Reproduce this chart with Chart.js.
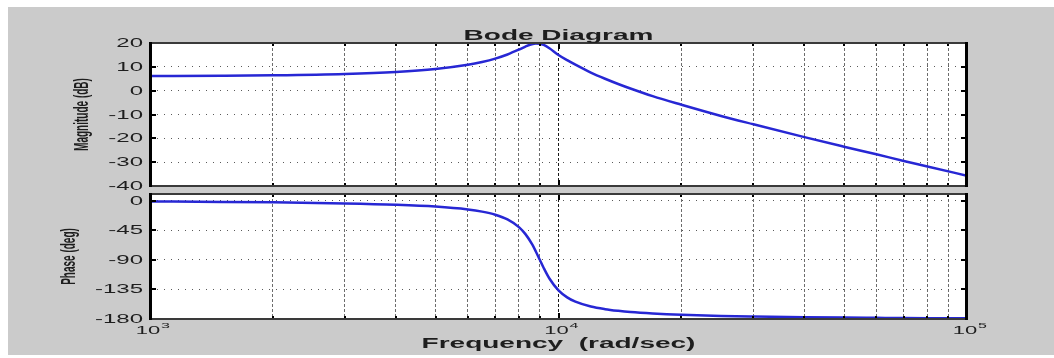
<!DOCTYPE html>
<html>
<head>
<meta charset="utf-8">
<title>Bode Diagram</title>
<script src="https://cdn.jsdelivr.net/npm/chart.js@4.4.1/dist/chart.umd.min.js"></script>
<style>
  html, body { margin: 0; padding: 0; background: #fff; }
  #fig { position: relative; width: 1054px; height: 358px; overflow: hidden; }
  #frame { position: absolute; left: 8px; top: 7px; right: 0; bottom: 3px; background: #cbcbcb; }
  canvas { position: absolute; left: 0; top: 0; }
</style>
</head>
<body>
<div id="fig">
  <div id="frame"></div>
  <canvas id="mag-chart" width="1054" height="358"></canvas>
  <canvas id="phase-chart" width="1054" height="358"></canvas>
</div>
<script>
// values (rad/sec, dB, deg)
const frequencies = [
  1000, 1500, 2000, 3000, 4000, 5000, 6000, 6500, 7000, 7500, 8000, 8300,
  8600, 8800, 9000, 9200, 9500, 10000, 10500, 11000, 12000, 13000, 14000,
  15000, 17000, 20000, 25000, 30000, 40000, 50000, 60000, 70000, 80000, 100000,
];
const magnitudeDb = [
  6.13, 6.26, 6.45, 7.02, 7.88, 9.12, 10.88, 12.05, 13.46, 15.19, 17.23, 18.51,
  19.5, 19.8, 19.7, 19.2, 17.8, 15.0, 12.8, 10.9, 7.6, 5.0, 2.8,
  0.9, -2.3, -5.9, -10.6, -14.1, -19.5, -23.5, -26.7, -29.5, -31.8, -35.7,
];
const phaseDeg = [
  -1.3, -2.0, -2.7, -4.3, -6.3, -9.1, -13.5, -16.8, -21.5, -28.6, -40.3, -51.0,
  -65.5, -77.3, -90.0, -102.4, -118.4, -136.5, -147.1, -153.7, -161.1, -165.1, -167.6,
  -169.4, -171.6, -173.6, -175.3, -176.2, -177.3, -177.9, -178.2, -178.5, -178.7, -179.0,
];

const magTicks = [20, 10, 0, -10, -20, -30, -40];
const phaseTicks = [0, -45, -90, -135, -180];
const freqGrid = [
  1000, 2000, 3000, 4000, 5000, 6000, 7000, 8000, 9000,
  10000, 20000, 30000, 40000, 50000, 60000, 70000, 80000, 90000, 100000,
];
const decadeTicks = [1000, 10000, 100000];

const STRETCH = 2;
const TEXT_COLOR = "#1e1e1e";

function wideText(ctx, text, x, y, font, align, rotate) {
  ctx.save();
  ctx.translate(x, y);
  ctx.scale(STRETCH, 1);
  if (rotate) ctx.rotate(-Math.PI / 2);
  ctx.font = font;
  ctx.textAlign = align;
  ctx.textBaseline = rotate ? "middle" : "alphabetic";
  ctx.fillStyle = TEXT_COLOR;
  ctx.fillText(text, 0, 0);
  ctx.restore();
}

const bodeFrame = {
  id: "bodeFrame",
  beforeDraw(chart) {
    const { ctx, chartArea: a } = chart;
    ctx.save();
    ctx.fillStyle = "#fff";
    ctx.fillRect(a.left, a.top, a.right - a.left, a.bottom - a.top);
    ctx.restore();
  },
  afterDraw(chart, args, opts) {
    const { ctx, chartArea: a } = chart;
    const xs = chart.scales.x;
    const ys = chart.scales.y;
    ctx.save();

    // inward tick marks
    ctx.fillStyle = "#000";
    xs.ticks.forEach((t) => {
      const px = Math.round(xs.getPixelForValue(t.value));
      const len = t.major ? 6 : 3;
      ctx.fillRect(px - 1, a.top, 2, len);
      ctx.fillRect(px - 1, a.bottom - len, 2, len);
    });
    ys.ticks.forEach((t) => {
      const py = Math.round(ys.getPixelForValue(t.value));
      ctx.fillRect(a.left, py - 1, 6, 2);
      ctx.fillRect(a.right - 6, py - 1, 6, 2);
    });

    // box
    ctx.fillStyle = "#3a3a3a";
    ctx.fillRect(a.left, a.top - 1, a.right - a.left, 2);
    ctx.fillRect(a.left, a.bottom - 1, a.right - a.left, 2);
    ctx.fillStyle = "#000";
    ctx.fillRect(a.left - 1, a.top - 1, 3, a.bottom - a.top + 2);
    ctx.fillRect(a.right - 2, a.top - 1, 3, a.bottom - a.top + 2);

    // y tick labels
    ys.ticks.forEach((t) => {
      const py = ys.getPixelForValue(t.value);
      wideText(ctx, String(t.value), a.left - 7, py + 4, "12px 'Liberation Sans', Arial", "right");
    });

    // y title
    wideText(ctx, opts.yTitle, opts.yTitleX, (a.top + a.bottom) / 2, "bold 10px 'Liberation Sans', Arial", "center", true);

    if (opts.title) {
      wideText(ctx, opts.title, (a.left + a.right) / 2, a.top - 3, "bold 14px 'Liberation Sans', Arial", "center");
    }

    if (opts.xTitle) {
      xs.ticks.filter((t) => t.major).forEach((t) => {
        const px = xs.getPixelForValue(t.value);
        const exp = String(Math.round(Math.log10(t.value)));
        wideText(ctx, "10", px - 2, a.bottom + 15, "11px 'Liberation Sans', Arial", "center");
        wideText(ctx, exp, px + 11, a.bottom + 9, "8px 'Liberation Sans', Arial", "left");
      });
      wideText(ctx, opts.xTitle, (a.left + a.right) / 2, a.bottom + 29, "bold 14px 'Liberation Sans', Arial", "center");
    }
    ctx.restore();
  },
};

function xScale() {
  return {
    type: "logarithmic",
    min: 1000,
    max: 100000,
    ticks: { display: false },
    afterBuildTicks: (scale) => {
      scale.ticks = freqGrid.map((v) => ({ value: v, major: decadeTicks.includes(v) }));
    },
    afterFit: (scale) => { scale.height = 0; },
    grid: {
      drawTicks: false,
      lineWidth: 1,
      color: (c) => (c.tick && c.tick.major ? "#1a1a1a" : "#6c6c6c"),
    },
    border: { display: false, dash: [3, 2] },
  };
}

function yScale(min, max, tickValues) {
  return {
    min: min,
    max: max,
    ticks: { display: false },
    afterBuildTicks: (scale) => {
      scale.ticks = tickValues.map((v) => ({ value: v }));
    },
    afterFit: (scale) => { scale.width = 0; },
    grid: { drawTicks: false, lineWidth: 1, color: "#5a5a5a" },
    border: { display: false, dash: [1, 6] },
  };
}

function bodeChart(canvasId, values, yOpts, padding, frameOpts) {
  return new Chart(document.getElementById(canvasId), {
    type: "line",
    data: {
      datasets: [
        {
          data: frequencies.map((f, i) => ({ x: f, y: values[i] })),
          borderColor: "#2727d4",
          borderWidth: 2.5,
          pointRadius: 0,
          cubicInterpolationMode: "monotone",
          fill: false,
        },
      ],
    },
    options: {
      responsive: false,
      animation: false,
      events: [],
      devicePixelRatio: 1,
      layout: { padding: padding },
      plugins: {
        legend: { display: false },
        tooltip: { enabled: false },
        bodeFrame: frameOpts,
      },
      scales: {
        x: xScale(),
        y: yOpts,
      },
    },
    plugins: [bodeFrame],
  });
}

bodeChart(
  "mag-chart",
  magnitudeDb,
  yScale(-40, 20, magTicks),
  { left: 150, right: 87, top: 43, bottom: 172 },
  { title: "Bode Diagram", yTitle: "Magnitude (dB)", yTitleX: 82 }
);

bodeChart(
  "phase-chart",
  phaseDeg,
  yScale(-180, 10, phaseTicks),
  { left: 150, right: 87, top: 194, bottom: 39 },
  { yTitle: "Phase (deg)", yTitleX: 69, xTitle: "Frequency  (rad/sec)" }
);
</script>
</body>
</html>
